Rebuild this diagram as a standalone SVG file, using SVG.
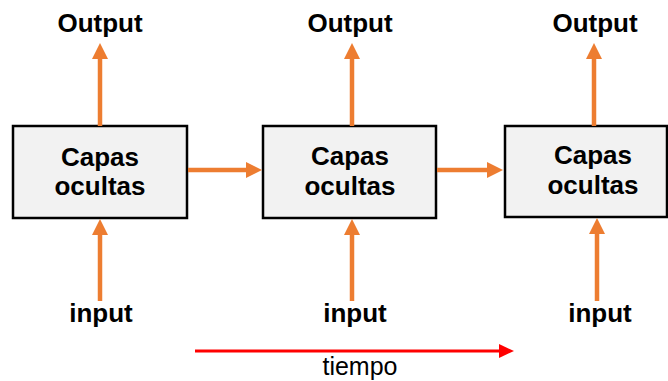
<svg xmlns="http://www.w3.org/2000/svg" width="668" height="381" viewBox="0 0 668 381">
  <defs>
    <marker id="headOrange" markerUnits="userSpaceOnUse" markerWidth="16" markerHeight="16" refX="0" refY="8" orient="auto" overflow="visible">
      <path d="M0,0 L16,8 L0,16 z" fill="#ED7D31"/>
    </marker>
    <marker id="headRed" markerUnits="userSpaceOnUse" markerWidth="16" markerHeight="16" refX="0" refY="7" orient="auto" overflow="visible">
      <path d="M0,0 L15,7 L0,14 z" fill="#FF0000"/>
    </marker>
  </defs>
  <style>
    .box { fill: #F2F2F2; stroke: #000000; stroke-width: 2.5; }
    .lbl { font-family: "Liberation Sans", Arial, sans-serif; font-weight: bold; font-size: 26px; fill: #000000; text-anchor: middle; }
    .time { font-family: "Liberation Sans", Arial, sans-serif; font-size: 25px; fill: #000000; text-anchor: middle; }
    .flow { stroke: #ED7D31; stroke-width: 4.5; fill: none; marker-end: url(#headOrange); }
    .axis { stroke: #FF0000; stroke-width: 3; fill: none; marker-end: url(#headRed); }
  </style>
  <rect width="668" height="381" fill="#FFFFFF"/>

  <!-- recurrent steps -->
  <g id="step1">
    <rect class="box" x="13" y="126" width="174" height="92"/>
    <text class="lbl" x="100" y="166">Capas</text>
    <text class="lbl" x="100" y="195">ocultas</text>
  </g>
  <g id="step2">
    <rect class="box" x="263" y="126" width="173" height="92"/>
    <text class="lbl" x="350" y="165">Capas</text>
    <text class="lbl" x="350" y="195">ocultas</text>
  </g>
  <g id="step3">
    <rect class="box" x="505" y="126" width="162" height="91"/>
    <text class="lbl" x="593" y="164">Capas</text>
    <text class="lbl" x="593" y="194">ocultas</text>
  </g>

  <!-- outputs -->
  <g id="output1"><text class="lbl" x="100" y="32">Output</text></g>
  <g id="output2"><text class="lbl" x="350" y="32">Output</text></g>
  <g id="output3"><text class="lbl" x="595" y="32">Output</text></g>

  <!-- inputs -->
  <g id="input1"><text class="lbl" x="101" y="322">input</text></g>
  <g id="input2"><text class="lbl" x="355" y="322">input</text></g>
  <g id="input3"><text class="lbl" x="600" y="322">input</text></g>

  <!-- time axis -->
  <g id="time">
    <text class="time" x="360" y="375">tiempo</text>
  </g>

  <g id="connectors">
    <!-- step to output -->
    <path class="flow" d="M100,126 V59"/>
    <path class="flow" d="M352,126 V59"/>
    <path class="flow" d="M594,126 V59"/>
    <!-- input to step -->
    <path class="flow" d="M100,301 V235"/>
    <path class="flow" d="M352,301 V235"/>
    <path class="flow" d="M597,301 V234"/>
    <!-- hidden state passed forward -->
    <path class="flow" d="M188,170 H246"/>
    <path class="flow" d="M437,170 H487"/>
    <!-- time direction -->
    <path class="axis" d="M195,351 H499"/>
  </g>
</svg>
